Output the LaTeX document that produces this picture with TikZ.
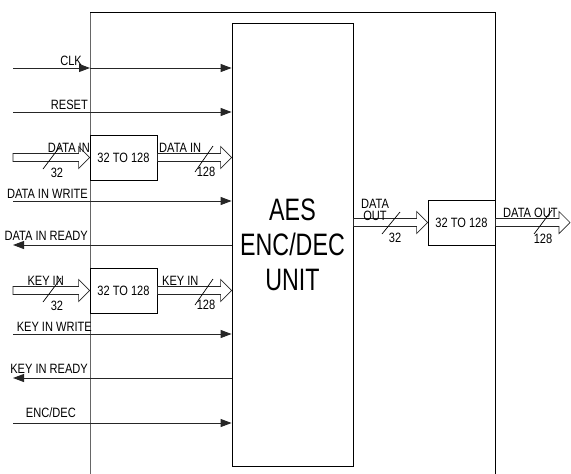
\documentclass[tikz,border=0pt]{standalone}
\usepackage{fontspec}
\setmainfont{Liberation Sans}[FakeStretch=0.82]
\newfontfamily\unitfont{Liberation Sans}[FakeStretch=0.75]
\usetikzlibrary{arrows.meta,positioning,calc}
% hollow bus arrow between two named points (horizontal)
\newcommand{\busarrow}[2]{%
  \draw[bus] ($(#1)+(0,4)$) -- ($(#2)+(-11,4)$) -- ($(#2)+(-11,11)$) -- (#2)
    -- ($(#2)+(-11,-11)$) -- ($(#2)+(-11,-4)$) -- ($(#1)+(0,-4)$) -- cycle;}

\begin{document}
\begin{tikzpicture}[x=1pt,y=-1pt,
    sig/.style={-{Triangle[length=11pt,width=8pt]},line width=0.9pt,black!85},
    bus/.style={draw=black!85,line width=0.7pt,fill=white},
    slash/.style={line width=0.7pt},
    convbox/.style={draw,line width=0.8pt,fill=white,minimum width=67pt,minimum height=45pt,inner sep=0pt,font=\fontsize{13.5}{15}\selectfont},
    lbl/.style={inner sep=0pt,font=\fontsize{13.5}{15}\selectfont}
  ]
  \useasboundingbox (0,0) rectangle (571,474);

  % outer frame (open at the bottom)
  \coordinate (otl) at (90,12);
  \coordinate (otr) at (495,12);
  \draw[black!60,line width=0.9pt] (otl) -- (90,474);
  \draw[line width=0.8pt] (otl) -- (otr) -- (495,474);

  % core
  \node[draw,line width=0.8pt,minimum width=121pt,minimum height=443pt,align=center,
        font=\unitfont\fontsize{31}{35}\selectfont] (aes) at (292.5,244.5) {AES\\ENC/DEC\\UNIT};

  % converters
  \node[convbox] (conv1) at (123.5,157.5) {32 TO 128};
  \node[convbox] (conv2) at (123.5,290.5) {32 TO 128};
  \node[convbox] (conv3) at (461.5,222.5) {32 TO 128};

  % free ends of the signals
  \coordinate (clk)  at (13,68);
  \coordinate (rst)  at (13,112);
  \coordinate (din)  at (13,157.5);
  \coordinate (dwr)  at (13,201);
  \coordinate (drdy) at (13,245);
  \coordinate (kin)  at (13,290.5);
  \coordinate (kwr)  at (13,334);
  \coordinate (krdy) at (13,378);
  \coordinate (encd) at (13,423);
  \coordinate (dout) at (570,222.5);
  \coordinate (dcore) at (conv1.east -| aes.west);
  \coordinate (kcore) at (conv2.east -| aes.west);
  \coordinate (ocore) at (conv3.west -| aes.east);

  % single lines
  \draw[sig] (clk) -- (clk -| otl);
  \draw[sig] (clk -| otl) -- (clk -| aes.west);
  \draw[sig] (rst) -- (rst -| aes.west);
  \draw[sig] (dwr) -- (dwr -| aes.west);
  \draw[sig] (drdy -| aes.west) -- (drdy);
  \draw[sig] (kwr) -- (kwr -| aes.west);
  \draw[sig] (krdy -| aes.west) -- (krdy);
  \draw[sig] (encd) -- (encd -| aes.west);

  \node[lbl,anchor=base east] (clkl) at (82,65) {CLK};
  \node[lbl,anchor=base east] (rstl) at (88,109) {RESET};
  \node[lbl,anchor=base east] (dwrl) at (88,198) {DATA IN WRITE};
  \node[lbl,anchor=base east] (drdyl) at (88,240) {DATA IN READY};
  \node[lbl,anchor=base east] (kwrl) at (92,331) {KEY IN WRITE};
  \node[lbl,anchor=base east] (krdyl) at (88,373) {KEY IN READY};
  \node[lbl,anchor=base east] (encdl) at (76,417) {ENC/DEC};

  % buses
  \busarrow{din}{conv1.west}
  \busarrow{conv1.east}{dcore}
  \busarrow{kin}{conv2.west}
  \busarrow{conv2.east}{kcore}
  \busarrow{ocore}{conv3.west}
  \busarrow{conv3.east}{dout}

  \draw[slash] (43,169) -- ++(18,-24);
  \draw[slash] (195,172) -- ++(18,-26);
  \draw[slash] (43,302) -- ++(18,-24);
  \draw[slash] (195,305) -- ++(18,-26);
  \draw[slash] (382,234) -- ++(18,-22);
  \draw[slash] (534,234) -- ++(18,-24);

  \node[lbl,anchor=base east] (dinl) at (90,152) {DATA IN};
  \node[lbl] (dinw) at (57,173) {32};
  \node[lbl,anchor=base west] (dinr) at (159,152) {DATA IN};
  \node[lbl] (dinrw) at (206,172) {128};
  \node[lbl,anchor=base east] (kinl) at (64,285) {KEY IN};
  \node[lbl] (kinw) at (57,306) {32};
  \node[lbl,anchor=base west] (kinr) at (162,285) {KEY IN};
  \node[lbl] (kinrw) at (206,305) {128};
  \node[lbl,align=center,font=\fontsize{13.5}{12}\selectfont] (doutl) at (375,210) {DATA\\OUT};
  \node[lbl] (doutw) at (395,238) {32};
  \node[lbl,anchor=base west] (doutr) at (503,217) {DATA OUT};
  \node[lbl] (doutrw) at (543,239) {128};
\end{tikzpicture}
\end{document}
